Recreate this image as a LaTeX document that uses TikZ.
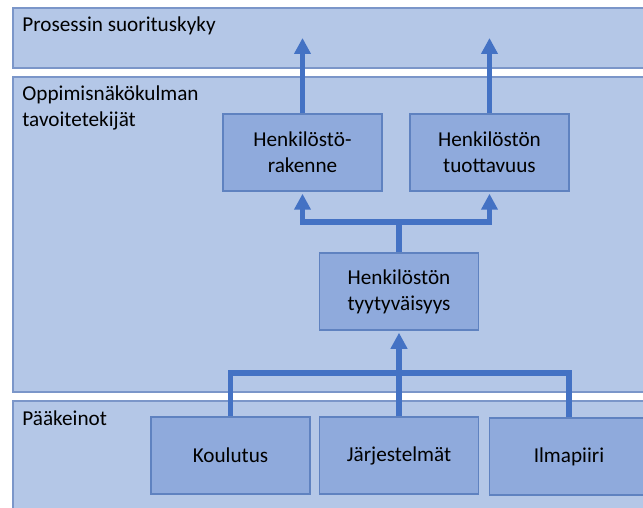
\documentclass[tikz,border=0pt]{standalone}
\usepackage{fontspec}
\setmainfont{Carlito}
\usetikzlibrary{positioning,arrows.meta,calc}
\definecolor{bandfill}{HTML}{B4C7E7}
\definecolor{bandline}{HTML}{7B96C9}
\definecolor{boxfill}{HTML}{8FAADC}
\definecolor{boxline}{HTML}{5F82C0}
\definecolor{flowblue}{HTML}{4472C4}

\begin{document}
\begin{tikzpicture}[x=0.5pt,y=-0.5pt,
  band/.style={fill=bandfill, draw=bandline, line width=0.75pt},
  bandlabel/.style={anchor=west, align=left, inner sep=0pt, font=\fontsize{10.6}{13}\selectfont},
  stepbox/.style={fill=boxfill, draw=boxline, line width=0.75pt, minimum width=79.5pt, minimum height=38.5pt, align=center, inner sep=0pt, font=\fontsize{10.6}{13}\selectfont},
  flow/.style={draw=flowblue, line width=2.75pt},
  tip/.style={-{Triangle[width=8pt,length=8pt]}}]
\useasboundingbox (0,0) rectangle (643,508);
\clip (0,0) rectangle (643,508);
% the three layers
\draw[band] (13,8) rectangle (660,68);
\draw[band] (13,77) rectangle (660,392);
\draw[band] (13,401) rectangle (660,530);
\node[bandlabel] (lperf) at (22,26) {Prosessin suorituskyky};
\node[bandlabel] (lgoal) at (22,108) {Oppimisnäkökulman\\tavoitetekijät};
\node[bandlabel] (lmeans) at (22,418) {Pääkeinot};
% boxes
\node[stepbox] (rak) at (302.5,152.5) {Henkilöstö-\\rakenne};
\node[stepbox] (tuo) at (489.5,152.5) {Henkilöstön\\tuottavuus};
\node[stepbox] (tyy) at (399,291.5) {Henkilöstön\\tyytyväisyys};
\node[stepbox] (kou) at (230.5,455.5) {Koulutus};
\node[stepbox] (jar) at (399,455.5) {Järjestelmät};
\node[stepbox] (ilm) at (569,456.5) {Ilmapiiri};
% connectors
\coordinate (top1) at (302.5,38);
\coordinate (top2) at (489.5,38);
\coordinate (split) at (399,222);
\coordinate (join) at (399,373);
\draw[flow,tip] (rak.north) -- (top1);
\draw[flow,tip] (tuo.north) -- (top2);
\draw[flow,tip] (tyy.north) -- (split) -| ([yshift=-1pt]rak.south);
\draw[flow,tip] (split) -| ([yshift=-1pt]tuo.south);
\draw[flow] (kou.north) |- (join);
\draw[flow] (ilm.north) |- (join);
\draw[flow,tip] (jar.north) -- ([yshift=-1pt]tyy.south);
\end{tikzpicture}
\end{document}
